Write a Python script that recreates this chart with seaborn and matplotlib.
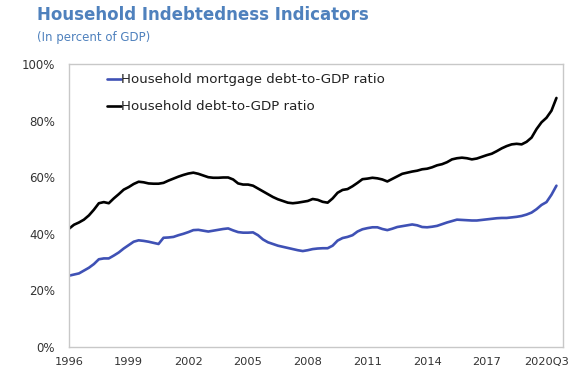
"""Household indebtedness indicators - quarterly line chart"""
import numpy as np
import pandas as pd
import matplotlib
matplotlib.use("Agg")
import matplotlib.pyplot as plt
import seaborn as sns

# quarterly data 1996Q1 - 2020Q3 (percent of GDP)
years = list(range(1996, 2021))

household_debt = [
    41.8, 43.2, 44.0, 45.0,   # 1996
    46.5, 48.5, 50.8, 51.2,   # 1997
    50.8, 52.5, 54.0, 55.6,   # 1998
    56.5, 57.6, 58.4, 58.2,   # 1999
    57.8, 57.7, 57.7, 58.0,   # 2000
    58.8, 59.5, 60.2, 60.8,   # 2001
    61.3, 61.6, 61.2, 60.6,   # 2002
    60.0, 59.8, 59.8, 59.9,   # 2003
    59.9, 59.2, 57.8, 57.4,   # 2004
    57.4, 57.0, 56.0, 55.0,   # 2005
    54.0, 53.0, 52.2, 51.6,   # 2006
    51.0, 50.8, 51.0, 51.3,   # 2007
    51.6, 52.3, 52.0, 51.3,   # 2008
    51.0, 52.5, 54.5, 55.5,   # 2009
    55.8, 56.8, 58.0, 59.3,   # 2010
    59.5, 59.8, 59.6, 59.2,   # 2011
    58.5, 59.4, 60.3, 61.2,   # 2012
    61.6, 62.0, 62.3, 62.8,   # 2013
    63.0, 63.5, 64.2, 64.6,   # 2014
    65.3, 66.3, 66.7, 66.9,   # 2015
    66.7, 66.3, 66.6, 67.2,   # 2016
    67.8, 68.3, 69.2, 70.2,   # 2017
    71.0, 71.6, 71.8, 71.6,   # 2018
    72.5, 74.0, 77.0, 79.4,   # 2019
    81.0, 83.5, 88.0,         # 2020
]

mortgage_debt = [
    25.2, 25.6, 26.0, 27.0,   # 1996
    28.0, 29.3, 31.0, 31.3,   # 1997
    31.3, 32.3, 33.4, 34.8,   # 1998
    36.0, 37.2, 37.7, 37.5,   # 1999
    37.2, 36.8, 36.4, 38.6,   # 2000
    38.7, 38.9, 39.5, 40.0,   # 2001
    40.6, 41.3, 41.4, 41.1,   # 2002
    40.8, 41.1, 41.4, 41.7,   # 2003
    41.9, 41.2, 40.6, 40.4,   # 2004
    40.4, 40.5, 39.5, 38.0,   # 2005
    37.0, 36.4, 35.8, 35.4,   # 2006
    35.0, 34.6, 34.2, 33.9,   # 2007
    34.2, 34.6, 34.8, 34.9,   # 2008
    34.9, 35.8, 37.6, 38.5,   # 2009
    38.9, 39.5, 40.8, 41.6,   # 2010
    42.0, 42.3, 42.3, 41.7,   # 2011
    41.3, 41.8, 42.4, 42.7,   # 2012
    43.0, 43.3, 43.0, 42.4,   # 2013
    42.3, 42.5, 42.8, 43.4,   # 2014
    44.0, 44.5, 45.0, 44.9,   # 2015
    44.8, 44.7, 44.7, 44.9,   # 2016
    45.1, 45.3, 45.5, 45.6,   # 2017
    45.6, 45.8, 46.0, 46.3,   # 2018
    46.8, 47.5, 48.7, 50.2,   # 2019
    51.2, 53.8, 57.0,         # 2020
]

tick_years = [1996, 1999, 2002, 2005, 2008, 2011, 2014, 2017, 2020]
tick_labels = ["1996", "1999", "2002", "2005", "2008", "2011", "2014", "2017", "2020Q3"]
y_ticks = [0, 20, 40, 60, 80, 100]

label_mortgage = "Household mortgage debt-to-GDP ratio"
label_total = "Household debt-to-GDP ratio"

# quarter index -> decimal year
n = len(household_debt)
t = [1996 + i / 4 for i in range(n)]

df = pd.concat([
    pd.DataFrame({"time": t, "value": mortgage_debt, "series": label_mortgage}),
    pd.DataFrame({"time": t, "value": household_debt, "series": label_total}),
])

sns.set_style("white")
plt.rcParams["font.family"] = ["DejaVu Sans"]

fig = plt.figure(figsize=(5.79, 3.72), dpi=100)
ax = fig.add_axes([69 / 579, 1 - 347 / 372, 494 / 579, 283 / 372])

sns.lineplot(
    data=df, x="time", y="value", hue="series",
    palette={label_mortgage: "#3F51B5", label_total: "#000000"},
    linewidth=1.9, ax=ax,
)

ax.set_xlim(1996, 2020.83)
ax.set_ylim(0, 100)
ax.set_xticks(tick_years)
ax.set_xticklabels(tick_labels)
ax.set_yticks(y_ticks)
ax.set_yticklabels([f"{v}%" for v in y_ticks])
ax.set_xlabel("")
ax.set_ylabel("")

for sp in ax.spines.values():
    sp.set_color("#C8C8C8")
    sp.set_linewidth(1.0)
ax.tick_params(axis="both", direction="in", length=4, color="#C8C8C8",
               labelsize=8.5, labelcolor="#333333")
ax.tick_params(axis="y", pad=10)
ax.tick_params(axis="x", pad=7.5, labelsize=8.2)

leg = ax.legend(
    loc="upper left", bbox_to_anchor=(0.06, 0.995), frameon=False,
    handlelength=1.1, handletextpad=0.0, labelspacing=1.05,
    fontsize=9.6, borderaxespad=0.2,
)
for txt in leg.get_texts():
    txt.set_color("#222222")

fig.text(37 / 579, 1 - 15 / 372, "Household Indebtedness Indicators",
         fontsize=12, fontweight="bold", color="#4F81BD", va="center", ha="left")
fig.text(37 / 579, 1 - 38 / 372, "(In percent of GDP)",
         fontsize=8.5, color="#4F81BD", va="center", ha="left")

fig.savefig("out.png", dpi=100)
